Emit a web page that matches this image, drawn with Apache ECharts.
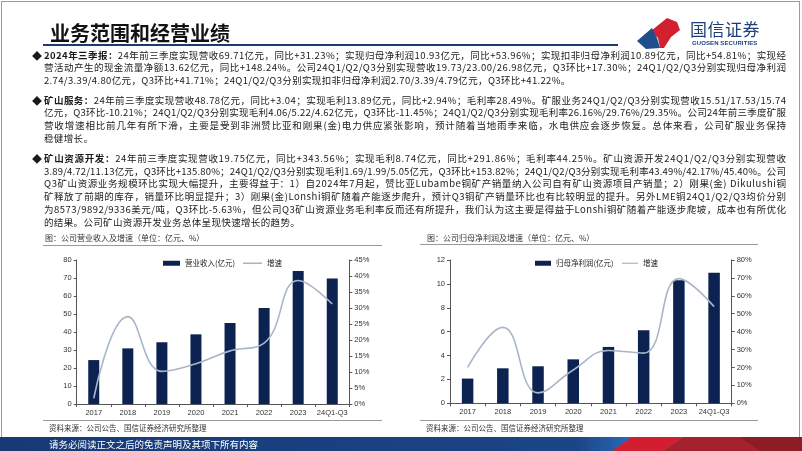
<!DOCTYPE html>
<html>
<head>
<meta charset="utf-8">
<script src="https://cdn.jsdelivr.net/npm/echarts@6/dist/echarts.min.js"></script>
<style>
html,body{margin:0;padding:0;background:#fff;}
#page{position:relative;width:802px;height:451px;overflow:hidden;background:#fff;font-family:"Noto Sans CJK SC",sans-serif;color:#1a1a1a;}
#chart{position:absolute;left:0;top:0;width:802px;height:451px;}
.abs{position:absolute;white-space:nowrap;}
.ln{position:absolute;left:44px;white-space:nowrap;font-size:9.5px;line-height:13px;height:13px;}
.dia{position:absolute;left:32px;font-size:10px;line-height:13px;}
b{font-weight:700;}
.sep{position:absolute;height:1px;background:#9a9a9a;}
.ct{position:absolute;font-size:8px;line-height:10px;color:#333;white-space:nowrap;}
</style>
</head>
<body>
<div id="page">
  <div id="chart"></div>
  <div style="position:absolute;left:1px;top:1px;width:797px;height:449px;border:1px solid #9c9c9c;border-bottom:none;pointer-events:none;"></div>
  <!-- header -->
  <div class="abs" style="left:50px;top:20px;font-size:20px;line-height:26px;font-weight:700;color:#111;">业务范围和经营业绩</div>
  <div style="position:absolute;left:43px;top:44px;width:575px;height:2px;background:#1d3b70;"></div>
  <svg style="position:absolute;left:0;top:0" width="802" height="60">
    <polygon points="651,31 667,18 677,22 680,30 671,37 664,48 660,48 658,38" fill="#d3202f"/>
    <polygon points="637,41 652,28 657,38 660,48 646,49" fill="#1f4e8c"/>
  </svg>
  <div class="abs" style="left:690px;top:18px;font-size:17px;line-height:22px;color:#1e3f7a;letter-spacing:0.5px;">国信证券</div>
  <div class="abs" style="left:692px;top:40px;font-size:6px;line-height:7px;color:#1e3f7a;font-weight:700;font-family:'Liberation Sans',sans-serif;letter-spacing:0.1px;">GUOSEN SECURITIES</div>

  <!-- body text -->
  <div id="txt"></div>

  <!-- chart titles and separators -->
  <div class="ct" style="left:45px;top:232.5px;">图：公司营业收入及增速（单位：亿元、%）</div>
  <div class="sep" style="left:43px;top:245px;width:339px;"></div>
  <div class="ct" style="left:427px;top:232.5px;">图：公司归母净利润及增速（单位：亿元、%）</div>
  <div class="sep" style="left:420px;top:244px;width:338px;"></div>
  <div class="sep" style="left:43px;top:420px;width:339px;"></div>
  <div class="sep" style="left:420px;top:420px;width:338px;"></div>
  <div class="ct" style="left:49px;top:423px;font-size:7.5px;">资料来源：公司公告、国信证券经济研究所整理</div>
  <div class="ct" style="left:426px;top:423px;font-size:7.5px;">资料来源：公司公告、国信证券经济研究所整理</div>

  <!-- footer -->
  <svg style="position:absolute;left:0;top:437px" width="802" height="14">
    <defs>
      <linearGradient id="fb" x1="0" x2="1" y1="0" y2="0">
        <stop offset="0" stop-color="#173a76"/>
        <stop offset="0.72" stop-color="#1c4585"/>
        <stop offset="0.79" stop-color="#2b6bbb"/>
      </linearGradient>
    </defs>
    <rect x="0" y="0" width="802" height="14" fill="url(#fb)"/>
    <polygon points="632,0 684,0 664,14 612,14" fill="#d21e2e"/>
    <polygon points="684,0 802,0 802,14 664,14" fill="#a3222b"/>
    <polygon points="740,0 802,0 802,14 760,14" fill="#8e1c24"/>
  </svg>
  <div class="abs" style="left:49px;top:437px;font-size:9.5px;line-height:14px;color:#fff;">请务必阅读正文之后的免责声明及其项下所有内容</div>
</div>

<script>
// ---------------- data ----------------
const categories = ['2017', '2018', '2019', '2020', '2021', '2022', '2023', '24Q1-Q3'];
const revenue = [24.4, 30.9, 34.3, 38.7, 45.0, 53.4, 73.9, 69.71];
const revenueGrowth = [1.8, 27.3, 10.2, 12.6, 16.6, 19.0, 38.6, 31.23];
const netProfit = [2.07, 2.93, 3.10, 3.68, 4.72, 6.12, 10.30, 10.93];
const profitGrowth = [20.0, 42.4, 5.8, 18.6, 29.5, 28.0, 69.6, 53.96];
const revAxisTicks = [0, 80, 10];       // min, max, interval
const revGrowthTicks = [0, 45, 5];
const profitAxisTicks = [0, 12, 2];
const profitGrowthTicks = [0, 80, 10];
const revBarName = '营业收入(亿元)';
const profitBarName = '归母净利润(亿元)';
const growthName = '增速';

// ---------------- body text ----------------
const paragraphs = [
  {top: 48.5, head: '2024年三季报：', lines: [
    '24年前三季度实现营收69.71亿元，同比+31.23%；实现归母净利润10.93亿元，同比+53.96%；实现扣非归母净利润10.89亿元，同比+54.81%；实现经',
    '营活动产生的现金流量净额13.62亿元，同比+148.24%。公司24Q1/Q2/Q3分别实现营收19.73/23.00/26.98亿元，Q3环比+17.30%；24Q1/Q2/Q3分别实现归母净利润',
    '2.74/3.39/4.80亿元，Q3环比+41.71%；24Q1/Q2/Q3分别实现扣非归母净利润2.70/3.39/4.79亿元，Q3环比+41.22%。'
  ]},
  {top: 93.5, head: '矿山服务：', lines: [
    '24年前三季度实现营收48.78亿元，同比+3.04；实现毛利13.89亿元，同比+2.94%；毛利率28.49%。矿服业务24Q1/Q2/Q3分别实现营收15.51/17.53/15.74',
    '亿元，Q3环比-10.21%；24Q1/Q2/Q3分别实现毛利4.06/5.22/4.62亿元，Q3环比-11.45%；24Q1/Q2/Q3分别实现毛利率26.16%/29.76%/29.35%。公司24年前三季度矿服',
    '营收增速相比前几年有所下滑，主要是受到非洲赞比亚和刚果(金)电力供应紧张影响，预计随着当地雨季来临，水电供应会逐步恢复。总体来看，公司矿服业务保持',
    '稳健增长。'
  ]},
  {top: 151.8, head: '矿山资源开发：', lines: [
    '24年前三季度实现营收19.75亿元，同比+343.56%；实现毛利8.74亿元，同比+291.86%；毛利率44.25%。矿山资源开发24Q1/Q2/Q3分别实现营收',
    '3.89/4.72/11.13亿元，Q3环比+135.80%；24Q1/Q2/Q3分别实现毛利1.69/1.99/5.05亿元，Q3环比+153.82%；24Q1/Q2/Q3分别实现毛利率43.49%/42.17%/45.40%。公司',
    'Q3矿山资源业务规模环比实现大幅提升，主要得益于：1）自2024年7月起，赞比亚Lubambe铜矿产销量纳入公司自有矿山资源项目产销量；2）刚果(金) Dikulushi铜',
    '矿释放了前期的库存，销量环比明显提升；3）刚果(金)Lonshi铜矿随着产能逐步爬升，预计Q3铜矿产销量环比也有比较明显的提升。另外LME铜24Q1/Q2/Q3均价分别',
    '为8573/9892/9336美元/吨，Q3环比-5.63%，但公司Q3矿山资源业务毛利率反而还有所提升，我们认为这主要是得益于Lonshi铜矿随着产能逐步爬坡，成本也有所优化',
    '的结果。公司矿山资源开发业务总体呈现快速增长的趋势。'
  ]}
];
const TEXT_RIGHT = 786, TEXT_LEFT = 44, LINE_H = 12.8;
const txt = document.getElementById('txt');
paragraphs.forEach(p => {
  const d = document.createElement('div');
  d.className = 'dia'; d.style.top = p.top + 'px'; d.textContent = '◆';
  txt.appendChild(d);
  p.lines.forEach((l, i) => {
    const s = document.createElement('span');
    s.className = 'ln';
    s.style.top = (p.top + i * LINE_H) + 'px';
    if (i === 0) {
      const b = document.createElement('b'); b.textContent = p.head; s.appendChild(b);
    }
    s.appendChild(document.createTextNode(l));
    txt.appendChild(s);
    const full = i < p.lines.length - 1;
    if (full) {
      const n = s.textContent.length;
      const w = s.getBoundingClientRect().width;
      const ls = (TEXT_RIGHT - TEXT_LEFT - w) / (n - 1);
      s.style.letterSpacing = ls + 'px';
    } else {
      s.style.letterSpacing = '0.35px';
    }
  });
});

// ---------------- chart ----------------
const chart = echarts.init(document.getElementById('chart'), null, {renderer: 'canvas'});
const axisFont = {fontSize: 7.5, color: '#333', fontFamily: 'Liberation Sans, Arial, sans-serif'};
const axisLine = {show: true, lineStyle: {color: '#555', width: 1}};
const barColor = '#0c2352';
const lineColor = '#a9b6c8';
const legendText = {fontSize: 7.5, color: '#222', fontFamily: '"Noto Sans CJK SC", sans-serif'};

function xAx(gi) {
  return {type: 'category', gridIndex: gi, data: categories,
    axisLine: axisLine, axisTick: {show: true, length: 3, lineStyle: {color: '#555'}},
    axisLabel: Object.assign({margin: 5, interval: 0}, axisFont), splitLine: {show: false}};
}
function yAx(gi, t, pct, pos) {
  return {type: 'value', gridIndex: gi, position: pos, min: t[0], max: t[1], interval: t[2],
    axisLine: axisLine, axisTick: {show: true, length: 3, lineStyle: {color: '#555'}},
    splitLine: {show: false},
    axisLabel: Object.assign({margin: 5, formatter: pct ? '{value}%' : '{value}'}, axisFont)};
}

chart.setOption({
  animation: false,
  textStyle: {fontFamily: 'Liberation Sans, "Noto Sans CJK SC", sans-serif'},
  grid: [
    {left: 76.7, right: 802 - 349.3, top: 260, bottom: 451 - 404},
    {left: 450, right: 802 - 731.7, top: 260, bottom: 451 - 403.3}
  ],
  legend: [
    {left: 158, top: 254.5, itemWidth: 17, itemHeight: 5, textStyle: legendText,
      data: [{name: revBarName, icon: 'rect'}]},
    {left: 238, top: 254.5, itemWidth: 19, itemHeight: 1.6, textStyle: legendText,
      data: [{name: growthName, icon: 'rect'}]},
    {left: 530, top: 254.5, itemWidth: 16, itemHeight: 5, textStyle: legendText,
      data: [{name: profitBarName, icon: 'rect'}]},
    {left: 617, top: 254.5, itemWidth: 16, itemHeight: 1.2, textStyle: legendText,
      data: [{name: growthName, icon: 'rect'}]}
  ],
  xAxis: [xAx(0), xAx(1)],
  yAxis: [
    yAx(0, revAxisTicks, false, 'left'), yAx(0, revGrowthTicks, true, 'right'),
    yAx(1, profitAxisTicks, false, 'left'), yAx(1, profitGrowthTicks, true, 'right')
  ],
  series: [
    {name: revBarName, type: 'bar', xAxisIndex: 0, yAxisIndex: 0, data: revenue,
      barWidth: 11, itemStyle: {color: barColor}},
    {name: growthName, type: 'line', xAxisIndex: 0, yAxisIndex: 1, data: revenueGrowth,
      smooth: 0.45, symbol: 'none', lineStyle: {color: lineColor, width: 1.6}, itemStyle: {color: lineColor}},
    {name: profitBarName, type: 'bar', xAxisIndex: 1, yAxisIndex: 2, data: netProfit,
      barWidth: 11.5, itemStyle: {color: barColor}},
    {name: growthName, type: 'line', xAxisIndex: 1, yAxisIndex: 3, data: profitGrowth,
      smooth: 0.45, symbol: 'none', lineStyle: {color: lineColor, width: 1.6}, itemStyle: {color: lineColor}}
  ]
});
</script>
</body>
</html>
